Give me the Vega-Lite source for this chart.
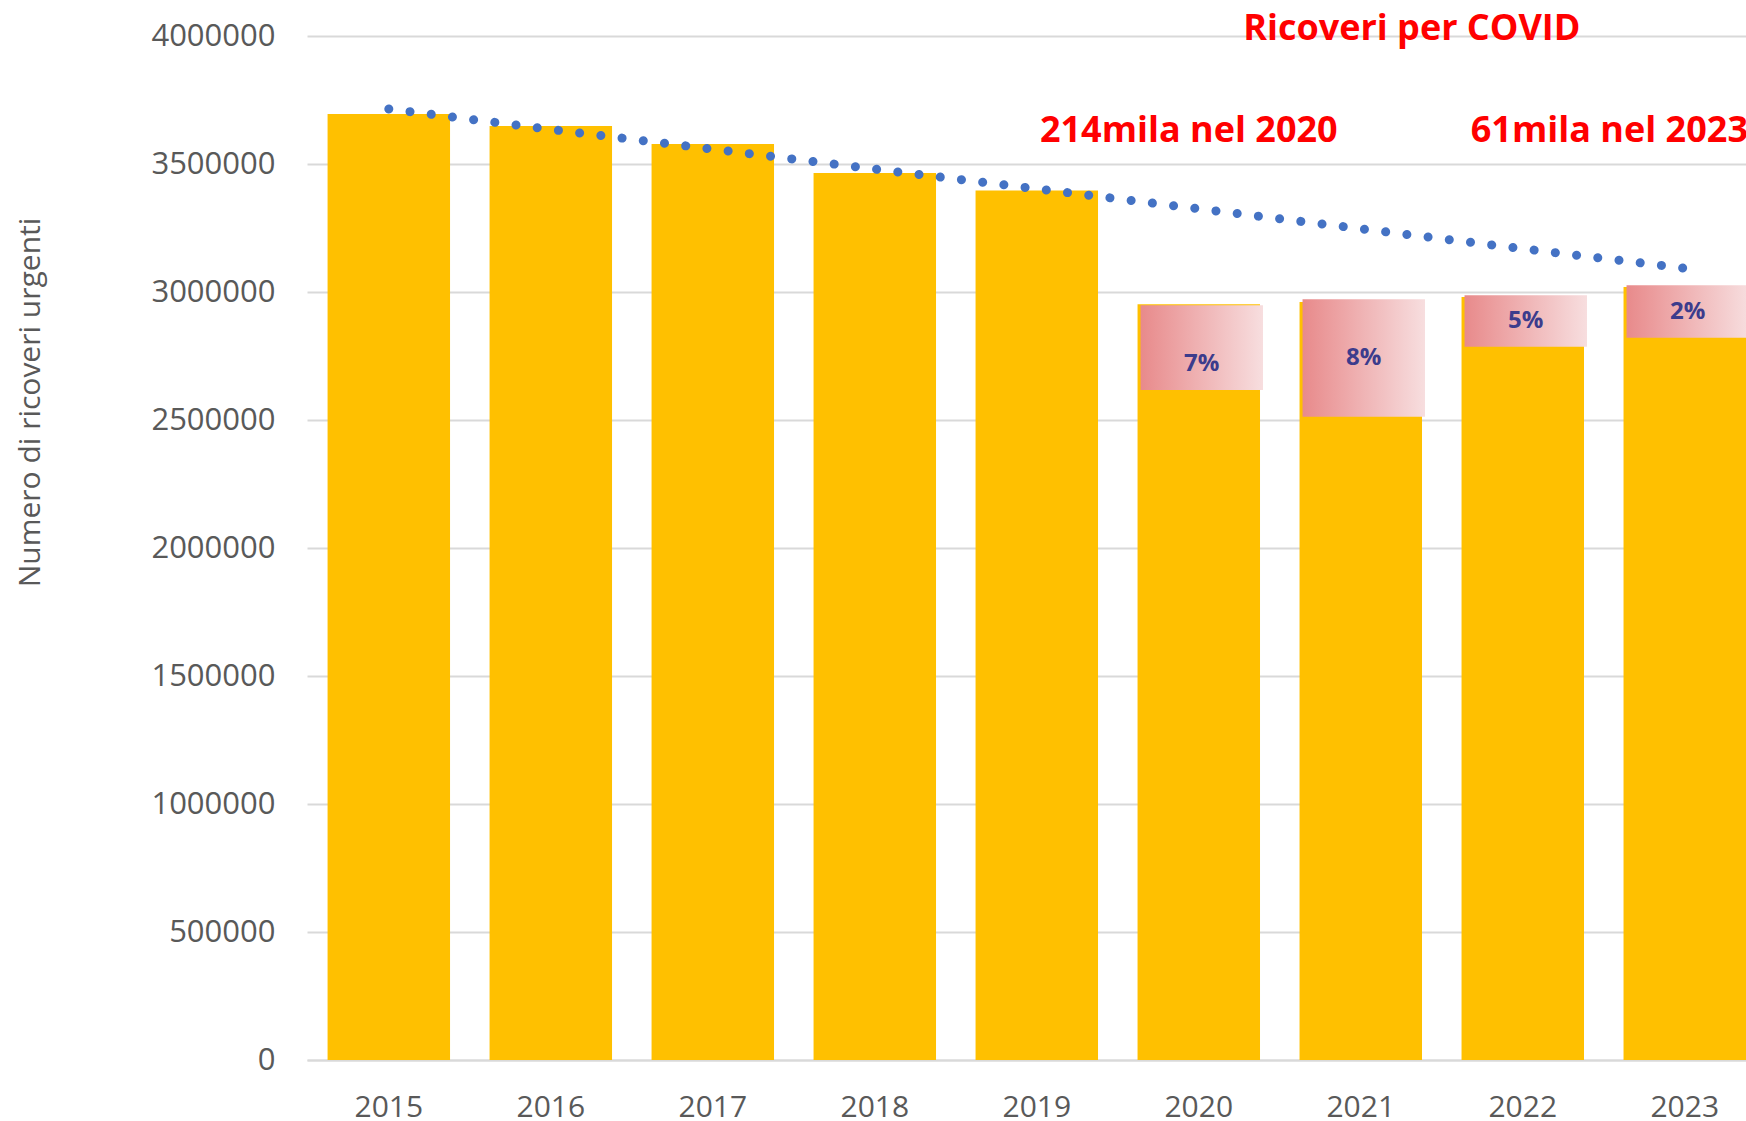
{
  "$schema": "https://vega.github.io/schema/vega-lite/v6.json",
  "width": 1439,
  "height": 1024,
  "autosize": {"type": "none"},
  "padding": {"left": 307, "top": 36, "right": 0, "bottom": 61},
  "background": "white",
  "config": {
    "view": {"stroke": null},
    "font": "Open Sans",
    "axis": {"labelFont": "Open Sans", "titleFont": "Open Sans"}
  },
  "datasets": {
    "years": [
      {"year": "2015", "total": 3695000, "trend": 3715000},
      {"year": "2016", "total": 3648000, "trend": 3635000},
      {"year": "2017", "total": 3578000, "trend": 3558000},
      {"year": "2018", "total": 3465000, "trend": 3480000},
      {"year": "2019", "total": 3396000, "trend": 3403000},
      {"year": "2020", "total": 2952000, "trend": 3325000, "covid_base": 2617000, "covid_top": 2948000, "pct": "7%"},
      {"year": "2021", "total": 2961000, "trend": 3247000, "covid_base": 2513000, "covid_top": 2972000, "pct": "8%"},
      {"year": "2022", "total": 2980000, "trend": 3169000, "covid_base": 2786000, "covid_top": 2987000, "pct": "5%"},
      {"year": "2023", "total": 3020000, "trend": 3093000, "covid_base": 2821000, "covid_top": 3026000, "pct": "2%"}
    ]
  },
  "data": {"name": "years"},
  "encoding": {
    "x": {
      "field": "year",
      "type": "ordinal",
      "scale": {"paddingInner": 0.244, "paddingOuter": 0.0635, "align": 1},
      "axis": {
        "title": null,
        "labelAngle": 0,
        "ticks": false,
        "domainColor": "#D9D9D9",
        "domainWidth": 2,
        "labelFontSize": 30,
        "labelColor": "#595959",
        "labelBaseline": "middle",
        "labelPadding": 47
      }
    }
  },
  "layer": [
    {
      "mark": {"type": "bar", "color": "#FFC000"},
      "encoding": {
        "y": {
          "field": "total",
          "type": "quantitative",
          "scale": {"domain": [0, 4000000], "nice": false},
          "axis": {
            "title": "Numero di ricoveri urgenti",
            "titleFontSize": 30,
            "titleFontWeight": "normal",
            "titleColor": "#595959",
            "titleAngle": -90,
            "titleAlign": "center",
            "titleBaseline": "alphabetic",
            "titleX": -268,
            "titleY": 366,
            "values": [0, 500000, 1000000, 1500000, 2000000, 2500000, 3000000, 3500000, 4000000],
            "format": "d",
            "domain": false,
            "ticks": false,
            "labelPadding": 32,
            "labelFontSize": 31,
            "labelColor": "#595959",
            "gridColor": "#D9D9D9",
            "gridWidth": 2
          }
        }
      }
    },
    {
      "transform": [{"filter": "isValid(datum.pct)"}],
      "mark": {
        "type": "bar",
        "xOffset": 3,
        "color": {
          "gradient": "linear",
          "x1": 0, "y1": 0, "x2": 1, "y2": 0,
          "stops": [
            {"offset": 0, "color": "#E88A8B"},
            {"offset": 1, "color": "#F7DEDF"}
          ]
        }
      },
      "encoding": {
        "y": {"field": "covid_base", "type": "quantitative"},
        "y2": {"field": "covid_top"}
      }
    },
    {
      "transform": [
        {"filter": "isValid(datum.pct) && datum.year != '2020'"},
        {"calculate": "(datum.covid_base + datum.covid_top) / 2", "as": "mid"}
      ],
      "mark": {"type": "text", "xOffset": 3, "font": "Open Sans", "fontSize": 24, "fontWeight": "bold", "color": "#3C3C8C", "baseline": "middle"},
      "encoding": {
        "y": {"field": "mid", "type": "quantitative"},
        "text": {"field": "pct"}
      }
    },
    {
      "transform": [
        {"filter": "datum.year == '2020'"},
        {"calculate": "(datum.covid_base + datum.covid_top) / 2", "as": "mid"}
      ],
      "mark": {"type": "text", "xOffset": 3, "dy": 16, "font": "Open Sans", "fontSize": 24, "fontWeight": "bold", "color": "#3C3C8C", "baseline": "middle"},
      "encoding": {
        "y": {"field": "mid", "type": "quantitative"},
        "text": {"field": "pct"}
      }
    },
    {
      "mark": {"type": "line", "color": "#4472C4", "strokeWidth": 9, "strokeCap": "round", "strokeDash": [0.01, 21.36]},
      "encoding": {
        "y": {"field": "trend", "type": "quantitative"}
      }
    },
    {
      "data": {"values": [{"year": "2021", "v": 3984000, "label": "Ricoveri per COVID"}]},
      "mark": {"type": "text", "font": "Open Sans", "fontSize": 36, "fontWeight": "bold", "color": "#FF0000", "align": "center", "baseline": "alphabetic", "dx": 51},
      "encoding": {
        "x": {"field": "year", "type": "ordinal"},
        "y": {"field": "v", "type": "quantitative"},
        "text": {"field": "label"}
      }
    },
    {
      "data": {"values": [{"year": "2020", "v": 3587000, "label": "214mila nel 2020"}]},
      "mark": {"type": "text", "font": "Open Sans", "fontSize": 36, "fontWeight": "bold", "color": "#FF0000", "align": "center", "baseline": "alphabetic", "dx": -10},
      "encoding": {
        "x": {"field": "year", "type": "ordinal"},
        "y": {"field": "v", "type": "quantitative"},
        "text": {"field": "label"}
      }
    },
    {
      "data": {"values": [{"year": "2022", "v": 3587000, "label": "61mila nel 2023"}]},
      "mark": {"type": "text", "font": "Open Sans", "fontSize": 36, "fontWeight": "bold", "color": "#FF0000", "align": "left", "baseline": "alphabetic", "dx": -52},
      "encoding": {
        "x": {"field": "year", "type": "ordinal"},
        "y": {"field": "v", "type": "quantitative"},
        "text": {"field": "label"}
      }
    }
  ]
}
